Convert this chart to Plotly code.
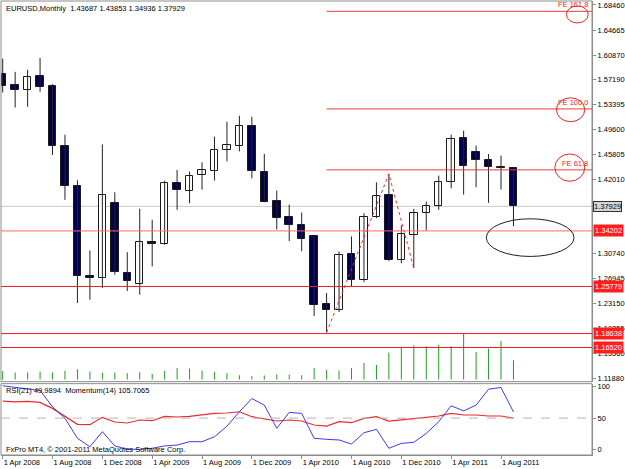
import plotly.graph_objects as go

# ---------------- data ----------------
months = ["Apr 2008", "May 2008", "Jun 2008", "Jul 2008", "Aug 2008", "Sep 2008", "Oct 2008", "Nov 2008",
          "Dec 2008", "Jan 2009", "Feb 2009", "Mar 2009", "Apr 2009", "May 2009", "Jun 2009", "Jul 2009",
          "Aug 2009", "Sep 2009", "Oct 2009", "Nov 2009", "Dec 2009", "Jan 2010", "Feb 2010", "Mar 2010",
          "Apr 2010", "May 2010", "Jun 2010", "Jul 2010", "Aug 2010", "Sep 2010", "Oct 2010", "Nov 2010",
          "Dec 2010", "Jan 2011", "Feb 2011", "Mar 2011", "Apr 2011", "May 2011", "Jun 2011", "Jul 2011",
          "Aug 2011", "Sep 2011"]

opens = [1.5798, 1.5631, 1.5555, 1.5772, 1.5620, 1.4713, 1.4103, 1.2735, 1.2711, 1.3846, 1.2781, 1.2620,
         1.3250, 1.3219, 1.4153, 1.4027, 1.4274, 1.4334, 1.4648, 1.4713, 1.5015, 1.4309, 1.3870, 1.3628,
         1.3513, 1.3340, 1.2307, 1.2227, 1.3064, 1.2681, 1.3634, 1.3971, 1.2983, 1.3351, 1.3694, 1.3800,
         1.4157, 1.4829, 1.4611, 1.4501, 1.4384, 1.43687]
highs = [1.6034, 1.5832, 1.5863, 1.6044, 1.5646, 1.4879, 1.4188, 1.3124, 1.4732, 1.4006, 1.3098, 1.3755,
         1.3589, 1.4183, 1.4345, 1.4319, 1.4460, 1.4849, 1.5076, 1.5167, 1.5151, 1.4587, 1.4032, 1.3820,
         1.3699, 1.3345, 1.2478, 1.3109, 1.3336, 1.3688, 1.4157, 1.4285, 1.3502, 1.3755, 1.3865, 1.4259,
         1.4879, 1.4940, 1.4713, 1.4587, 1.4561, 1.43853]
lows = [1.5519, 1.5292, 1.5303, 1.5530, 1.4572, 1.3891, 1.2327, 1.2378, 1.2554, 1.2756, 1.2508, 1.2454,
        1.2882, 1.3210, 1.3740, 1.3840, 1.4047, 1.4183, 1.4475, 1.4626, 1.4218, 1.3855, 1.3442, 1.3265,
        1.3113, 1.2130, 1.1879, 1.2191, 1.2584, 1.2644, 1.3613, 1.2962, 1.2930, 1.2856, 1.3427, 1.3740,
        1.4067, 1.3971, 1.4082, 1.3846, 1.4047, 1.34936]
closes = [1.5620, 1.5555, 1.5757, 1.5610, 1.4702, 1.4097, 1.2731, 1.2711, 1.3961, 1.2796, 1.2666, 1.3250,
          1.3219, 1.4153, 1.4042, 1.4254, 1.4345, 1.4648, 1.4723, 1.5015, 1.4334, 1.3865, 1.3623, 1.3513,
          1.3295, 1.2302, 1.2227, 1.3048, 1.2681, 1.3638, 1.3946, 1.2973, 1.3366, 1.3694, 1.3800, 1.4157,
          1.4814, 1.4400, 1.4501, 1.4395, 1.4369, 1.37929]
volumes = [8300, 7000, 7000, 8000, 7000, 8600, 10300, 8000, 6600, 7000, 6300, 7300, 5600, 8600, 11300,
           11000, 9000, 7300, 6300, 4300, 3300, 4000, 5000, 5000, 4300, 11300, 9600, 9000, 11300, 16600,
           14600, 27000, 32000, 34300, 33300, 34600, 33300, 46000, 27600, 31000, 38600, 19300]
rsi21 = [77.2, 76.1, 76.7, 75.1, 65.5, 52.2, 40.0, 39.4, 51.2, 43.7, 42.1, 46.9, 45.8, 52.8, 51.7, 52.8,
         54.9, 57.6, 58.1, 60.1, 52.2, 48.5, 45.3, 46.9, 45.3, 38.9, 37.3, 44.2, 42.6, 49.6, 52.2, 45.3,
         46.9, 49.6, 51.2, 53.3, 57.6, 54.9, 54.9, 53.3, 53.3, 49.9894]
momentum14 = [118.0, 117.2, 116.4, 115.8, 108.1, 102.7, 93.3, 89.3, 96.4, 89.7, 88.1, 88.1, 88.6, 89.7,
              90.1, 91.7, 91.7, 94.0, 99.0, 105.8, 112.0, 108.9, 98.0, 105.5, 105.0, 93.3, 92.8, 92.5,
              90.6, 95.9, 97.5, 88.6, 90.9, 91.4, 95.6, 101.1, 108.6, 106.2, 108.9, 116.4, 117.2, 105.7065]

date_ticks = ["Apr 2008", "Aug 2008", "Dec 2008", "Apr 2009", "Aug 2009", "Dec 2009", "Apr 2010",
              "Aug 2010", "Dec 2010", "Apr 2011", "Aug 2011"]
# 1.38215 and 1.34420 are completely covered by the price labels in the reference
price_ticks = [1.68460, 1.64665, 1.60870, 1.57190, 1.53395, 1.49600, 1.45805, 1.42010,
               1.30740, 1.26945, 1.23150, 1.19355, 1.15560, 1.11880]
rsi_ticks = [0, 50, 100]

red_levels = [1.34202, 1.25779, 1.18638, 1.16520]
last_price = 1.37929
fe_names = ["FE 61.8", "FE 100.0", "FE 161.8"]
fe_prices = [1.4346, 1.5270, 1.6750]
fe_points_month = ["Jun 2010", "Nov 2010", "Jan 2011"]
fe_points_price = [1.1879, 1.4285, 1.2856]

# ---------------- figure ----------------
xi = list(range(len(months)))
idx = {m: i for i, m in enumerate(months)}

BEAR = "#00004E"
fig = go.Figure()

# wicks
wx, wy = [], []
for i in xi:
    wx += [i, i, None]
    wy += [lows[i], highs[i], None]
fig.add_trace(go.Scatter(x=wx, y=wy, mode="lines", line=dict(color="#222222", width=1),
                         hoverinfo="skip", yaxis="y"))

# bodies
bases, hts, cols = [], [], []
for i in xi:
    lo, hi = min(opens[i], closes[i]), max(opens[i], closes[i])
    bases.append(lo)
    hts.append(max(hi - lo, 0.0004))
    cols.append("white" if closes[i] >= opens[i] else BEAR)
fig.add_trace(go.Bar(x=xi, y=hts, base=bases, width=0.6, marker=dict(color=cols,
                     line=dict(color="#1a1a1a", width=1)), yaxis="y"))

# volumes (green sticks at the bottom of the price window)
vx, vy = [], []
for i in xi:
    vx += [i, i, None]
    vy += [0, volumes[i], None]
fig.add_trace(go.Scatter(x=vx, y=vy, mode="lines", line=dict(color="#1E9E1E", width=1),
                         hoverinfo="skip", yaxis="y3"))

# fibo expansion zigzag
fig.add_trace(go.Scatter(x=[idx[m] for m in fe_points_month], y=fe_points_price, mode="lines",
                         line=dict(color="#FF2020", width=1, dash="dot"), yaxis="y"))

# indicators
fig.add_trace(go.Scatter(x=xi, y=rsi21, mode="lines", line=dict(color="#F02828", width=1.2), yaxis="y2"))
fig.add_trace(go.Scatter(x=xi, y=momentum14, mode="lines", line=dict(color="#3A3AF0", width=1), yaxis="y4"))

H_PLOT = 455.0
main_bot = (H_PLOT - 381.5) / H_PLOT
ind_top = (H_PLOT - 383.5) / H_PLOT
x_rng = [-0.136, 47.304]

shapes = []
# window borders
shapes.append(dict(type="rect", xref="paper", yref="paper", x0=0, x1=1, y0=main_bot, y1=1,
                   line=dict(color="#8c8c8c", width=1), layer="above"))
shapes.append(dict(type="rect", xref="paper", yref="paper", x0=0, x1=1, y0=0, y1=ind_top,
                   line=dict(color="#8c8c8c", width=1), layer="above"))
# current price line
shapes.append(dict(type="line", xref="paper", yref="y", x0=0, x1=1, y0=last_price, y1=last_price,
                   line=dict(color="#C8C8C8", width=1), layer="below"))
for k, lv in enumerate(red_levels):
    shapes.append(dict(type="line", xref="paper", yref="y", x0=0, x1=1, y0=lv, y1=lv,
                       line=dict(color="#FF6A6A" if k == 0 else "#F01E1E", width=1)))
for p in fe_prices:
    shapes.append(dict(type="line", xref="x", yref="y", x0=idx[fe_points_month[0]], x1=x_rng[1],
                       y0=p, y1=p, line=dict(color="#F03C3C", width=1)))
# RSI 50 level
shapes.append(dict(type="line", xref="paper", yref="y2", x0=0, x1=1, y0=50, y1=50,
                   line=dict(color="#B4B4B4", width=1, dash="dash")))
# hand drawn ellipses
for (x0, x1, y0, y1) in [(45.25, 47.0, 1.6574, 1.6831), (44.45, 46.72, 1.5076, 1.5439),
                         (44.32, 46.72, 1.4173, 1.4587)]:
    shapes.append(dict(type="circle", xref="x", yref="y", x0=x0, x1=x1, y0=y0, y1=y1,
                       line=dict(color="#F02020", width=1)))
shapes.append(dict(type="circle", xref="x", yref="y", x0=38.82, x1=45.86, y0=1.3033, y1=1.3604,
                   line=dict(color="#202020", width=1)))

FONT = "Liberation Sans, Arial, sans-serif"
ann = []
# FE labels
for name, p in zip(fe_names, fe_prices):
    ann.append(dict(xref="paper", yref="y", x=1, y=p, xanchor="right", yanchor="bottom", xshift=-2,
                    text=name, showarrow=False, font=dict(color="#F02020", size=7.5, family=FONT)))
# price labels on the scale
for lv in red_levels:
    ann.append(dict(xref="paper", yref="y", x=1, y=lv, xanchor="left", yanchor="middle", xshift=1,
                    text=f"{lv:.5f}", showarrow=False, bgcolor="#FF1E1E", borderpad=1,
                    font=dict(color="white", size=7.5, family=FONT)))
ann.append(dict(xref="paper", yref="y", x=1, y=last_price, xanchor="left", yanchor="middle", xshift=1,
                text=f"{last_price:.5f}", showarrow=False, bgcolor="#D6D6D6", bordercolor="#303030",
                borderwidth=1, borderpad=0, font=dict(color="black", size=7.5, family=FONT)))
# headers
ann.append(dict(xref="paper", yref="paper", x=0, y=(H_PLOT - 8) / H_PLOT, xanchor="left", yanchor="middle",
                xshift=3, showarrow=False, font=dict(color="black", size=7.5, family=FONT),
                text="EURUSD,Monthly  %.5f %.5f %.5f %.5f" % (opens[-1], highs[-1], lows[-1], closes[-1])))
ann.append(dict(xref="paper", yref="paper", x=0, y=(H_PLOT - 390) / H_PLOT, xanchor="left", yanchor="middle",
                xshift=3, showarrow=False, font=dict(color="black", size=7.5, family=FONT),
                text="RSI(21) %.4f  Momentum(14) %.4f" % (rsi21[-1], momentum14[-1])))
ann.append(dict(xref="paper", yref="paper", x=0, y=(H_PLOT - 449) / H_PLOT, xanchor="left", yanchor="middle",
                xshift=3, showarrow=False, font=dict(color="black", size=7.5, family=FONT),
                text="FxPro MT4, © 2001-2011 MetaQuotes Software Corp."))

fig.update_layout(
    width=625, height=469, margin=dict(l=1, r=31, t=0, b=14),
    paper_bgcolor="white", plot_bgcolor="white", showlegend=False,
    font=dict(family=FONT, size=7.5, color="black"),
    bargap=0, shapes=shapes, annotations=ann,
    xaxis=dict(range=x_rng, anchor="y2", tickvals=[idx[m] for m in date_ticks],
               ticktext=["1 " + m for m in date_ticks], ticks="outside", ticklen=3, tickcolor="#8c8c8c",
               showline=True, linecolor="#8c8c8c", showgrid=False, zeroline=False,
               ticklabelposition="outside right", tickfont=dict(size=7.5, family=FONT)),
    yaxis=dict(domain=[main_bot, 1], range=[1.11344, 1.690652], side="right", anchor="x",
               tickvals=price_ticks, ticktext=[f"{v:.5f}" for v in price_ticks], ticks="outside",
               ticklen=3, tickcolor="#8c8c8c", showline=True, linecolor="#8c8c8c", showgrid=False,
               zeroline=False, tickfont=dict(size=7.5, family=FONT)),
    yaxis2=dict(domain=[0, ind_top], range=[-9.09, 105.1], side="right", anchor="x",
                tickvals=rsi_ticks, ticks="outside", ticklen=3, tickcolor="#8c8c8c", showline=True,
                linecolor="#8c8c8c", showgrid=False, zeroline=False, tickfont=dict(size=7.5, family=FONT)),
    yaxis3=dict(overlaying="y", range=[-2200, 379300], visible=False, anchor="x"),
    yaxis4=dict(overlaying="y2", range=[85.43, 119.0], visible=False, anchor="x"),
)

fig.write_html("out.html")
